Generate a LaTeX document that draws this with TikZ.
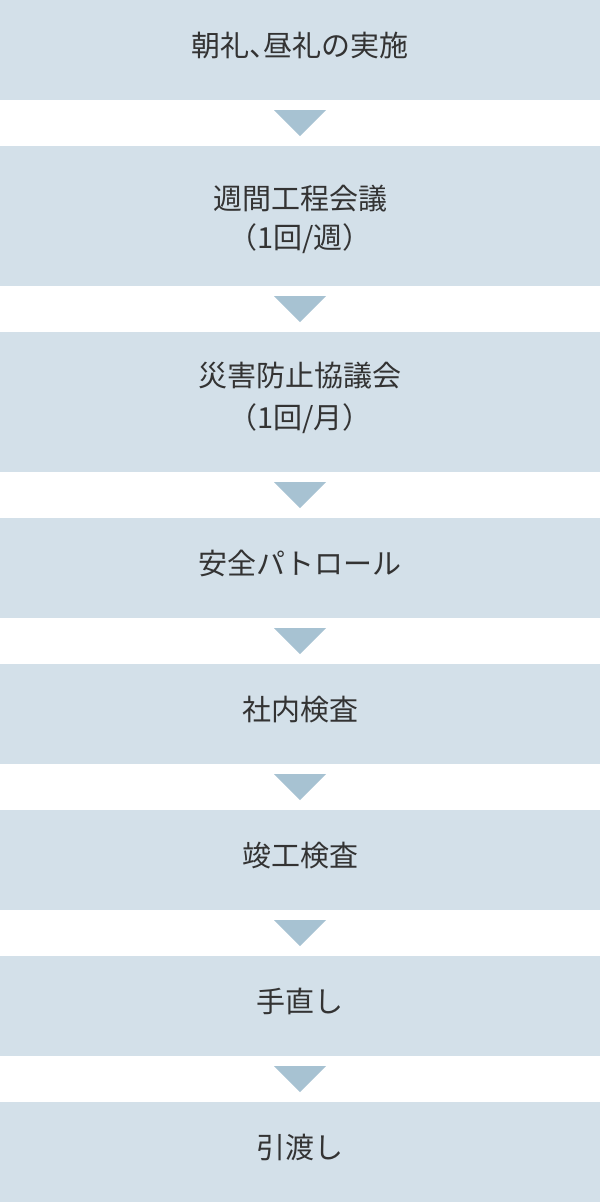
\documentclass[tikz,border=0pt]{standalone}
\usepackage{fontspec}
\setmainfont{Noto Sans CJK JP}
\usepackage{tikz}
\usetikzlibrary{calc}
\definecolor{boxfill}{HTML}{D3E0E9}
\definecolor{trifill}{HTML}{A7C2D2}
\definecolor{textcol}{HTML}{333333}

\begin{document}
\begin{tikzpicture}[
  x=1pt, y=1pt,
  stage/.style={rectangle, fill=boxfill, inner sep=0pt,
                minimum width=600pt, minimum height=100pt},
  tall/.style={stage, minimum height=140pt},
  txt/.style={inner sep=0pt, align=center, text=textcol,
              font=\fontsize{29pt}{39pt}\selectfont},
  tri/.style={fill=trifill},
]
  \useasboundingbox (0,0) rectangle (600,-1202);

  % boxes
  \node[stage] (s1) at (300,   -50) {};
  \node[tall]  (s2) at (300,  -216) {};
  \node[tall]  (s3) at (300,  -402) {};
  \node[stage] (s4) at (300,  -568) {};
  \node[stage] (s5) at (300,  -714) {};
  \node[stage] (s6) at (300,  -860) {};
  \node[stage] (s7) at (300, -1006) {};
  \node[stage] (s8) at (300, -1152) {};

  % texts
  \node[txt] (t1) at ([yshift=4.5]s1.center) {朝礼{\addfontfeature{RawFeature=+halt}、}昼礼の実施};
  \node[txt] (t2) at ([yshift=-3.7]s2.center) {週間工程会議\\（1回/週）};
  \node[txt] (t3) at ([yshift=4.2]s3.center) {災害防止協議会\\[3pt]（1回/月）};
  \node[txt] (t4) at ([yshift=4.5]s4.center) {安全パトロール};
  \node[txt] (t5) at ([yshift=4.5]s5.center) {社内検査};
  \node[txt] (t6) at ([yshift=4.5]s6.center) {竣工検査};
  \node[txt] (t7) at ([yshift=4.5]s7.center) {手直し};
  \node[txt] (t8) at ([yshift=4.5]s8.center) {引渡し};

  % arrows
  \fill[tri] ($(s1.south)+(-26,-10)$) -- ++(52,0) -- ($(s1.south)+(0,-36)$) -- cycle;
  \fill[tri] ($(s2.south)+(-26,-10)$) -- ++(52,0) -- ($(s2.south)+(0,-36)$) -- cycle;
  \fill[tri] ($(s3.south)+(-26,-10)$) -- ++(52,0) -- ($(s3.south)+(0,-36)$) -- cycle;
  \fill[tri] ($(s4.south)+(-26,-10)$) -- ++(52,0) -- ($(s4.south)+(0,-36)$) -- cycle;
  \fill[tri] ($(s5.south)+(-26,-10)$) -- ++(52,0) -- ($(s5.south)+(0,-36)$) -- cycle;
  \fill[tri] ($(s6.south)+(-26,-10)$) -- ++(52,0) -- ($(s6.south)+(0,-36)$) -- cycle;
  \fill[tri] ($(s7.south)+(-26,-10)$) -- ++(52,0) -- ($(s7.south)+(0,-36)$) -- cycle;
\end{tikzpicture}
\end{document}
